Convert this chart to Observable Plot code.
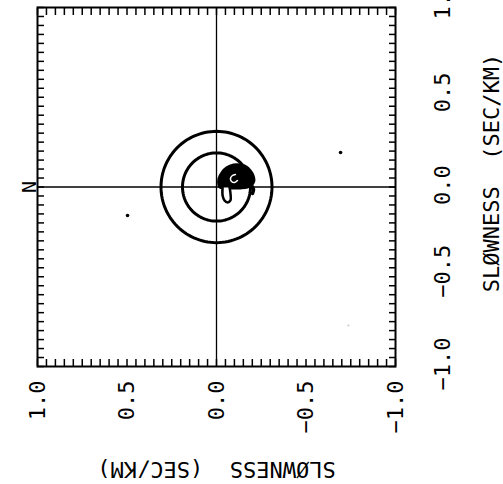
<!DOCTYPE html>
<html>
<head>
<meta charset="utf-8">
<script src="https://cdn.jsdelivr.net/npm/d3@7"></script>
<script src="https://cdn.jsdelivr.net/npm/@observablehq/plot@0.6"></script>
<style>
  body { margin: 0; background: #fff; }
  #chart { position: relative; width: 503px; height: 484px; overflow: hidden; background: #fff; }
  #chart svg { position: absolute; left: 0; top: 0; }
</style>
</head>
<body>
<div id="chart"></div>
<script>
// Slowness grid: minor ticks every 0.05 s/km, labelled every 0.5 s/km
const tickValues = d3.range(-20, 21).map(i => i / 20);
const labelValues = [1, 0.5, 0, -0.5, -1];
const labelTexts = ["1.0", "0.5", "0.0", "\u22120.5", "\u22121.0"];
const axisTitle = "SLØWNESS  (SEC/KM)";
const northLabel = "N";

// Reference rings (slowness radius, s/km)
const ringRadii = [0.19, 0.31];

// Beam power maximum: filled outer contour, side lobe, lower lobe and inner contour
const peakX = [-0.011, -0.011, -0.028, -0.056, -0.095, -0.134, -0.168, -0.190, -0.207, -0.212, -0.201, -0.173, -0.134, -0.089, -0.045, -0.017];
const peakY = [0.008, 0.047, 0.081, 0.109, 0.125, 0.125, 0.114, 0.092, 0.064, 0.036, 0.014, -0.003, -0.008, -0.008, -0.008, -0.003];
const tailX = [-0.173, -0.196, -0.207, -0.201];
const tailY = [0.025, 0.008, -0.014, -0.036];
const dropX = [-0.034, -0.034, -0.045, -0.061, -0.078, -0.078, -0.073];
const dropY = [-0.003, -0.047, -0.075, -0.086, -0.075, -0.036, -0.003];
const innerX = [-0.106, -0.089, -0.078, -0.084, -0.101, -0.117];
const innerY = [0.070, 0.064, 0.047, 0.031, 0.025, 0.036];

// Isolated secondary maxima
const strayX = [0.497, -0.693];
const strayY = [-0.159, 0.192];
const faintX = [-0.737];
const faintY = [-0.772];

const pts = (xs, ys) => xs.map((x, i) => ({x, y: ys[i]}));
const ringPoints = ringRadii.flatMap(r =>
  d3.range(0, 360, 3).map(a => ({ring: r, x: r * Math.cos(a * Math.PI / 180), y: r * Math.sin(a * Math.PI / 180)}))
);
const labelTable = labelValues.map((v, i) => ({v, t: labelTexts[i]}));

const font = "DejaVu Sans Mono, monospace";
const tickOpts = {tickSize: -7, tickFormat: () => "", label: null, strokeWidth: 1.5};

const main = Plot.plot({
  width: 503,
  height: 484,
  marginLeft: 37,
  marginRight: 108,
  marginTop: 7,
  marginBottom: 118,
  x: {domain: [1, -1]},
  y: {domain: [-1, 1]},
  style: {fontFamily: font, background: "transparent", color: "black"},
  marks: [
    Plot.ruleX([0], {stroke: "black", strokeWidth: 1.3}),
    Plot.ruleY([0], {stroke: "black", strokeWidth: 1.3}),
    Plot.line(ringPoints, {x: "x", y: "y", z: "ring", curve: "linear-closed", stroke: "black", strokeWidth: 3}),
    Plot.line(pts(peakX, peakY), {x: "x", y: "y", curve: "catmull-rom-closed", fill: "black", stroke: "black", strokeWidth: 2}),
    Plot.line(pts(tailX, tailY), {x: "x", y: "y", curve: "catmull-rom", stroke: "black", strokeWidth: 3.5, strokeLinecap: "round"}),
    Plot.line(pts(dropX, dropY), {x: "x", y: "y", curve: "catmull-rom", fill: "white", stroke: "black", strokeWidth: 2.5}),
    Plot.line(pts(innerX, innerY), {x: "x", y: "y", curve: "catmull-rom", stroke: "white", strokeWidth: 1.5}),
    Plot.dot(pts(strayX, strayY), {x: "x", y: "y", r: 1.8, fill: "black", stroke: null}),
    Plot.dot(pts(faintX, faintY), {x: "x", y: "y", r: 1, fill: "#c8c8c8", stroke: null}),
    Plot.frame({stroke: "black", strokeWidth: 2}),
    Plot.axisX(tickValues, {anchor: "top", ...tickOpts}),
    Plot.axisX(tickValues, {anchor: "bottom", ...tickOpts}),
    Plot.axisY(tickValues, {anchor: "left", ...tickOpts}),
    Plot.axisY(tickValues, {anchor: "right", ...tickOpts}),
    Plot.text(labelTable, {x: "v", text: "t", frameAnchor: "bottom", dy: 14, rotate: -90, textAnchor: "end", lineAnchor: "middle", fontSize: 22, fontFamily: font}),
    Plot.text([axisTitle], {frameAnchor: "right", dx: 96, dy: -14, rotate: -90, textAnchor: "middle", lineAnchor: "middle", fontSize: 22, fontFamily: font}),
    Plot.text([axisTitle], {frameAnchor: "bottom", dy: 103, rotate: 180, textAnchor: "middle", lineAnchor: "middle", fontSize: 22, fontFamily: font}),
    Plot.text([{y: 0, t: northLabel}], {y: "y", text: "t", frameAnchor: "left", dx: -8, rotate: -90, textAnchor: "middle", lineAnchor: "middle", fontSize: 20, fontFamily: font})
  ]
});

// Second slowness scale printed beside the panel
const side = Plot.plot({
  width: 503,
  height: 484,
  marginTop: 19,
  marginBottom: 94,
  marginLeft: 0,
  marginRight: 61,
  y: {domain: [-1, 1], axis: null},
  style: {fontFamily: font, background: "transparent", color: "black"},
  marks: [
    Plot.text(labelTable, {y: "v", text: "t", frameAnchor: "right", rotate: -90, textAnchor: "start", lineAnchor: "middle", fontSize: 22, fontFamily: font})
  ]
});

const chart = document.getElementById("chart");
chart.appendChild(main);
chart.appendChild(side);
</script>
</body>
</html>
